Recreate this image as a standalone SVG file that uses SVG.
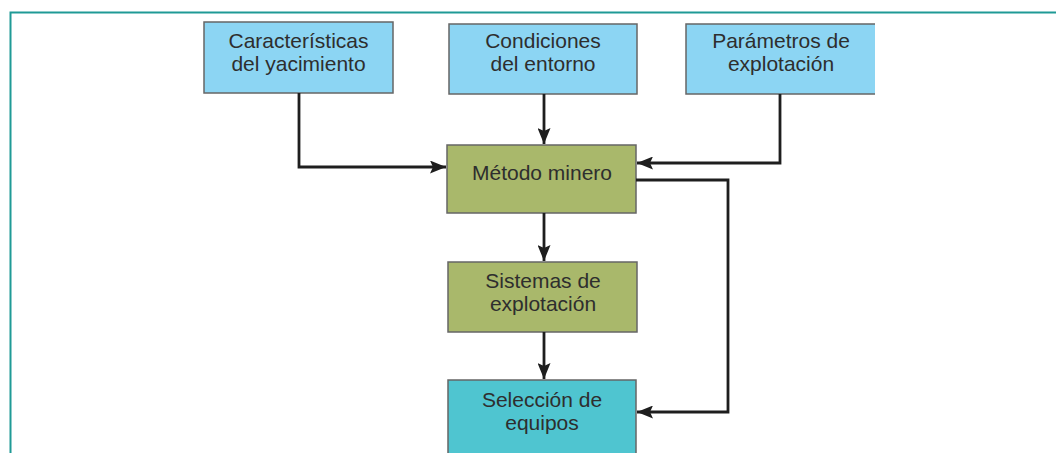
<svg xmlns="http://www.w3.org/2000/svg" width="1056" height="453" viewBox="0 0 1056 453">
<style>
.box{stroke:#666;stroke-width:1.5}
.blue{fill:#8cd5f3}
.green{fill:#a9b86b}
.teal{fill:#4fc5d0}
.lbl{font-family:"Liberation Sans",Arial,sans-serif;font-size:21px;fill:#2e2e2e;text-anchor:middle}
.conn{fill:none;stroke:#1e1e1e;stroke-width:2.8}
</style>
<defs>
<marker id="ah" viewBox="0 0 16 13" refX="16" refY="6.5" markerWidth="16" markerHeight="13" markerUnits="userSpaceOnUse" orient="auto">
<path d="M0,0 L16,6.5 L0,13 L3,6.5 Z" fill="#1e1e1e"/>
</marker>
<clipPath id="clipR"><rect x="0" y="0" width="875" height="453"/></clipPath>
</defs>
<rect width="1056" height="453" fill="#fff"/>
<path d="M10.5,453 V12.5 H1056" fill="none" stroke="#1f9a96" stroke-width="2"/>
<g id="n1">
<rect class="box blue" x="204" y="22" width="189" height="71"/>
<text class="lbl" x="298.5" y="48">Características</text>
<text class="lbl" x="298.5" y="71">del yacimiento</text>
</g>
<g id="n2">
<rect class="box blue" x="449" y="24" width="188" height="70"/>
<text class="lbl" x="543" y="48">Condiciones</text>
<text class="lbl" x="543" y="71">del entorno</text>
</g>
<g id="n3" clip-path="url(#clipR)">
<rect class="box blue" x="686" y="24" width="200" height="70"/>
<text class="lbl" x="781" y="48">Parámetros de</text>
<text class="lbl" x="781" y="71">explotación</text>
</g>
<g id="n4">
<rect class="box green" x="447" y="145" width="189" height="68"/>
<text class="lbl" x="542" y="180">Método minero</text>
</g>
<g id="n5">
<rect class="box green" x="448" y="262" width="189" height="70"/>
<text class="lbl" x="543" y="288">Sistemas de</text>
<text class="lbl" x="543" y="311">explotación</text>
</g>
<g id="n6">
<rect class="box teal" x="448" y="380" width="188" height="80"/>
<text class="lbl" x="542" y="407">Selección de</text>
<text class="lbl" x="542" y="430">equipos</text>
</g>
<g id="connectors">
<path class="conn" d="M299,93 V167 H446" marker-end="url(#ah)"/>
<path class="conn" d="M544,94 V144" marker-end="url(#ah)"/>
<path class="conn" d="M780,94 V163 H637" marker-end="url(#ah)"/>
<path class="conn" d="M636,180 H728 V412 H637" marker-end="url(#ah)"/>
<path class="conn" d="M544,213 V261" marker-end="url(#ah)"/>
<path class="conn" d="M544,332 V379" marker-end="url(#ah)"/>
</g>
</svg>
